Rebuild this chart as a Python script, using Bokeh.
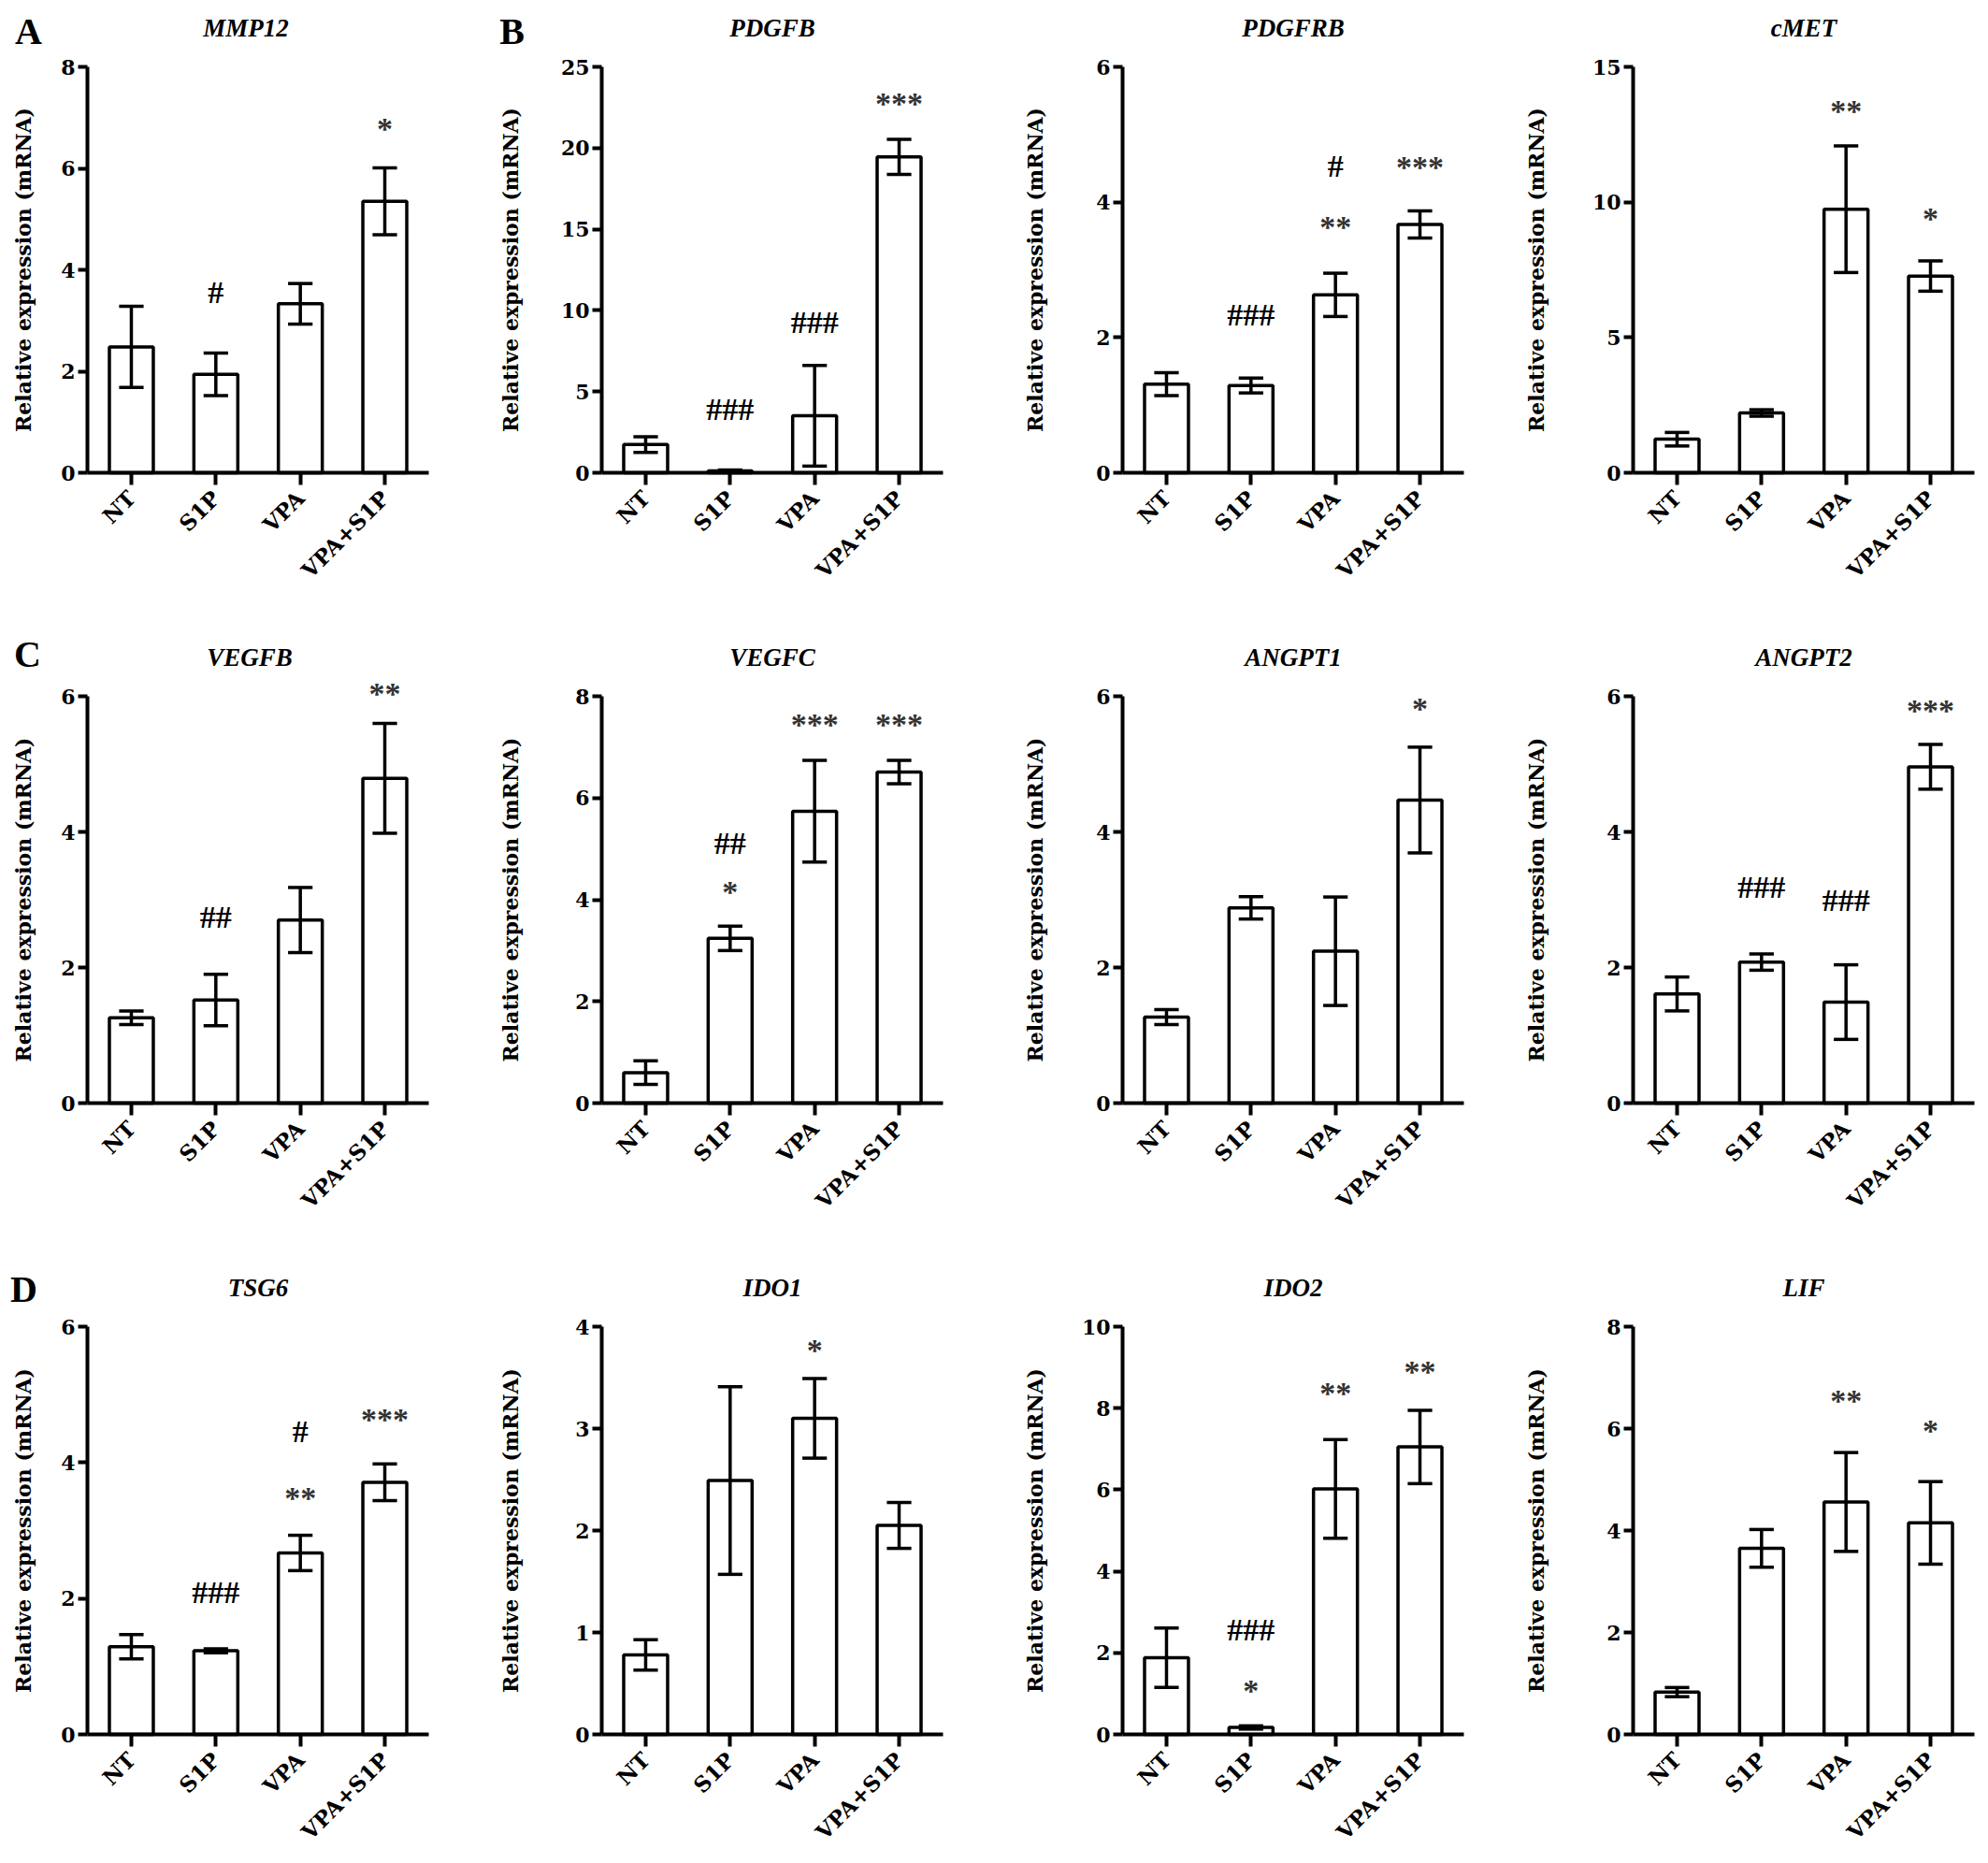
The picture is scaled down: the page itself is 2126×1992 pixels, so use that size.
import math
from bokeh.plotting import figure
from bokeh.models import Label, FixedTicker, Range1d
from bokeh.layouts import row, column
from bokeh.embed import file_html
from bokeh.resources import INLINE

# ---------------- data ----------------
categories = ["NT", "S1P", "VPA", "VPA+S1P"]

mmp12_mean = [2.48, 1.94, 3.33, 5.35]
mmp12_err = [0.80, 0.42, 0.40, 0.66]
mmp12_ticks = [0, 2, 4, 6, 8]
mmp12_marks = [("S1P", "#", 3.55), ("VPA+S1P", "*", 6.9)]

pdgfb_mean = [1.74, 0.12, 3.51, 19.45]
pdgfb_err = [0.48, 0.05, 3.10, 1.08]
pdgfb_ticks = [0, 5, 10, 15, 20, 25]
pdgfb_marks = [("S1P", "###", 3.9), ("VPA", "###", 9.3), ("VPA+S1P", "***", 23.1)]

pdgfrb_mean = [1.31, 1.29, 2.63, 3.67]
pdgfrb_err = [0.17, 0.11, 0.32, 0.20]
pdgfrb_ticks = [0, 2, 4, 6]
pdgfrb_marks = [("S1P", "###", 2.33), ("VPA", "#", 4.53), ("VPA", "**", 3.72), ("VPA+S1P", "***", 4.6)]

cmet_mean = [1.24, 2.21, 9.74, 7.27]
cmet_err = [0.25, 0.12, 2.34, 0.56]
cmet_ticks = [0, 5, 10, 15]
cmet_marks = [("VPA", "**", 13.6), ("VPA+S1P", "*", 9.6)]

vegfb_mean = [1.26, 1.52, 2.70, 4.79]
vegfb_err = [0.10, 0.38, 0.48, 0.81]
vegfb_ticks = [0, 2, 4, 6]
vegfb_marks = [("S1P", "##", 2.74), ("VPA+S1P", "**", 6.12)]

vegfc_mean = [0.60, 3.24, 5.74, 6.51]
vegfc_err = [0.23, 0.24, 1.00, 0.23]
vegfc_ticks = [0, 2, 4, 6, 8]
vegfc_marks = [("S1P", "##", 5.12), ("S1P", "*", 4.27), ("VPA", "***", 7.55), ("VPA+S1P", "***", 7.55)]

angpt1_mean = [1.27, 2.88, 2.24, 4.47]
angpt1_err = [0.11, 0.165, 0.80, 0.78]
angpt1_ticks = [0, 2, 4, 6]
angpt1_marks = [("VPA+S1P", "*", 5.9)]

angpt2_mean = [1.61, 2.08, 1.49, 4.96]
angpt2_err = [0.25, 0.12, 0.55, 0.33]
angpt2_ticks = [0, 2, 4, 6]
angpt2_marks = [("S1P", "###", 3.19), ("VPA", "###", 2.99), ("VPA+S1P", "***", 5.88)]

tsg6_mean = [1.29, 1.23, 2.67, 3.71]
tsg6_err = [0.18, 0.03, 0.26, 0.27]
tsg6_ticks = [0, 2, 4, 6]
tsg6_marks = [("S1P", "###", 2.09), ("VPA", "#", 4.46), ("VPA", "**", 3.57), ("VPA+S1P", "***", 4.72)]

ido1_mean = [0.78, 2.49, 3.10, 2.05]
ido1_err = [0.15, 0.92, 0.39, 0.225]
ido1_ticks = [0, 1, 2, 3, 4]
ido1_marks = [("VPA", "*", 3.83)]

ido2_mean = [1.88, 0.17, 6.02, 7.05]
ido2_err = [0.73, 0.04, 1.21, 0.90]
ido2_ticks = [0, 2, 4, 6, 8, 10]
ido2_marks = [("S1P", "###", 2.56), ("S1P", "*", 1.21), ("VPA", "**", 8.52), ("VPA+S1P", "**", 9.03)]

lif_mean = [0.83, 3.65, 4.56, 4.15]
lif_err = [0.09, 0.37, 0.97, 0.81]
lif_ticks = [0, 2, 4, 6, 8]
lif_marks = [("VPA", "**", 6.66), ("VPA+S1P", "*", 6.07)]

genes = ["MMP12", "PDGFB", "PDGFRB", "cMET",
         "VEGFB", "VEGFC", "ANGPT1", "ANGPT2",
         "TSG6", "IDO1", "IDO2", "LIF"]
panel_letters = {(0, 0): "A", (0, 1): "B", (1, 0): "C", (2, 0): "D"}
y_label = "Relative expression (mRNA)"

panels = [
    (mmp12_mean, mmp12_err, mmp12_ticks, mmp12_marks),
    (pdgfb_mean, pdgfb_err, pdgfb_ticks, pdgfb_marks),
    (pdgfrb_mean, pdgfrb_err, pdgfrb_ticks, pdgfrb_marks),
    (cmet_mean, cmet_err, cmet_ticks, cmet_marks),
    (vegfb_mean, vegfb_err, vegfb_ticks, vegfb_marks),
    (vegfc_mean, vegfc_err, vegfc_ticks, vegfc_marks),
    (angpt1_mean, angpt1_err, angpt1_ticks, angpt1_marks),
    (angpt2_mean, angpt2_err, angpt2_ticks, angpt2_marks),
    (tsg6_mean, tsg6_err, tsg6_ticks, tsg6_marks),
    (ido1_mean, ido1_err, ido1_ticks, ido1_marks),
    (ido2_mean, ido2_err, ido2_ticks, ido2_marks),
    (lif_mean, lif_err, lif_ticks, lif_marks),
]

# ---------------- layout / style ----------------
SERIF = "Liberation Serif"
WIDE = "DejaVu Serif"
COL_W = [520, 560, 545, 496]          # figure widths
ROW_H = [670, 675, 640]               # figure heights
AX_LEFT = [93, 123, 120, 121]         # y axis position inside each figure (px)
AX_TOP = [71, 74, 73]                 # top of plotted range inside each figure (px)
PLOT_W = 365                          # px from y axis to end of x axis
PLOT_H = [434, 435, 436]              # px from 0 to top tick
YLAB_DIST = [69, 98, 94, 104]
LETTER_OFF = {(0, 0): (-63, 38), (0, 1): (-96, 38), (1, 0): (-64, 45), (2, 0): (-68, 40)}
TITLE_DX = {0: -13, 4: -9}
X0, X1 = 0.48, 4.52
BAR_W = 0.52
CAP = 0.145
LW = 3.5

xs = [1, 2, 3, 4]


def make_panel(idx):
    r, c = divmod(idx, 4)
    gene = genes[idx]
    mean, err, ticks, marks = panels[idx]
    ymax = ticks[-1]
    kx = (X1 - X0) / PLOT_W            # data units per px
    ky = ymax / PLOT_H[r]
    xs0 = X0 - AX_LEFT[c] * kx
    xs1 = xs0 + COL_W[c] * kx
    ys1 = ymax + AX_TOP[r] * ky
    ys0 = ys1 - ROW_H[r] * ky
    p = figure(width=COL_W[c], height=ROW_H[r], title=None,
               x_range=Range1d(xs0, xs1), y_range=Range1d(ys0, ys1),
               output_backend="svg", toolbar_location=None, tools="",
               min_border=0,
               background_fill_color="white", border_fill_color="white",
               outline_line_color=None)
    p.xgrid.visible = False
    p.ygrid.visible = False

    p.vbar(x=xs, top=mean, bottom=0, width=BAR_W, fill_color="white",
           line_color="black", line_width=LW)
    lo = [m - e for m, e in zip(mean, err)]
    hi = [m + e for m, e in zip(mean, err)]
    p.segment(x0=xs, y0=lo, x1=xs, y1=hi, line_color="black", line_width=LW)
    p.segment(x0=[x - CAP for x in xs], y0=hi, x1=[x + CAP for x in xs], y1=hi,
              line_color="black", line_width=LW)
    p.segment(x0=[x - CAP for x in xs], y0=lo, x1=[x + CAP for x in xs], y1=lo,
              line_color="black", line_width=LW)

    # axes, pinned at data positions
    for ax in (p.xaxis[0], p.yaxis[0]):
        ax.axis_line_width = 4
        ax.axis_line_color = "black"
        ax.major_tick_line_width = 4
        ax.major_tick_line_color = "black"
        ax.major_tick_in = 0
        ax.minor_tick_in = 0
        ax.minor_tick_out = 0
        ax.major_label_text_font = WIDE
        ax.major_label_text_font_style = "bold"
        ax.major_label_text_color = "black"
    p.yaxis.fixed_location = X0
    p.yaxis.bounds = (0, ymax)
    p.yaxis.ticker = FixedTicker(ticks=ticks)
    p.yaxis.major_tick_out = 10
    p.yaxis.major_label_standoff = 3
    p.yaxis.major_label_text_font_size = "22px"
    p.xaxis.fixed_location = 0
    p.xaxis.bounds = (X0, X1)
    p.xaxis.ticker = FixedTicker(ticks=xs)
    p.xaxis.major_label_overrides = {x: cat for x, cat in zip(xs, categories)}
    p.xaxis.major_label_orientation = math.pi / 4
    p.xaxis.major_tick_out = 13
    p.xaxis.major_label_standoff = 10
    p.xaxis.major_label_text_font_size = "23px"

    # y label
    p.add_layout(Label(x=X0, y=ymax / 2, x_offset=-YLAB_DIST[c], text=y_label,
                       angle=math.pi / 2, text_align="center", text_baseline="middle",
                       text_font=WIDE, text_font_size="22px", text_font_style="bold",
                       text_color="black"))
    # title
    p.add_layout(Label(x=(X0 + X1) / 2, y=ymax, x_offset=TITLE_DX.get(idx, 0),
                       y_offset=42, text=gene,
                       text_align="center", text_baseline="middle",
                       text_font=SERIF, text_font_size="27px",
                       text_font_style="bold italic", text_color="black"))
    # panel letter
    if (r, c) in panel_letters:
        dx, dy = LETTER_OFF[(r, c)]
        p.add_layout(Label(x=X0, y=ymax, x_offset=dx, y_offset=dy,
                           text=panel_letters[(r, c)],
                           text_align="center", text_baseline="middle",
                           text_font=SERIF, text_font_size="40px",
                           text_font_style="bold", text_color="black"))
    # significance marks
    for cat, txt, yv in marks:
        star = txt.startswith("*")
        p.add_layout(Label(x=xs[categories.index(cat)], y=yv,
                           y_offset=-6 if star else 0, text=txt,
                           text_align="center", text_baseline="middle",
                           text_font=SERIF, text_font_size="34px",
                           text_font_style="bold",
                           text_color="#333333" if star else "black"))
    return p


figs = [make_panel(i) for i in range(12)]
layout = column([row(figs[r * 4:(r + 1) * 4], spacing=0) for r in range(3)], spacing=0)

open("out.html", "w").write(file_html(layout, INLINE))
